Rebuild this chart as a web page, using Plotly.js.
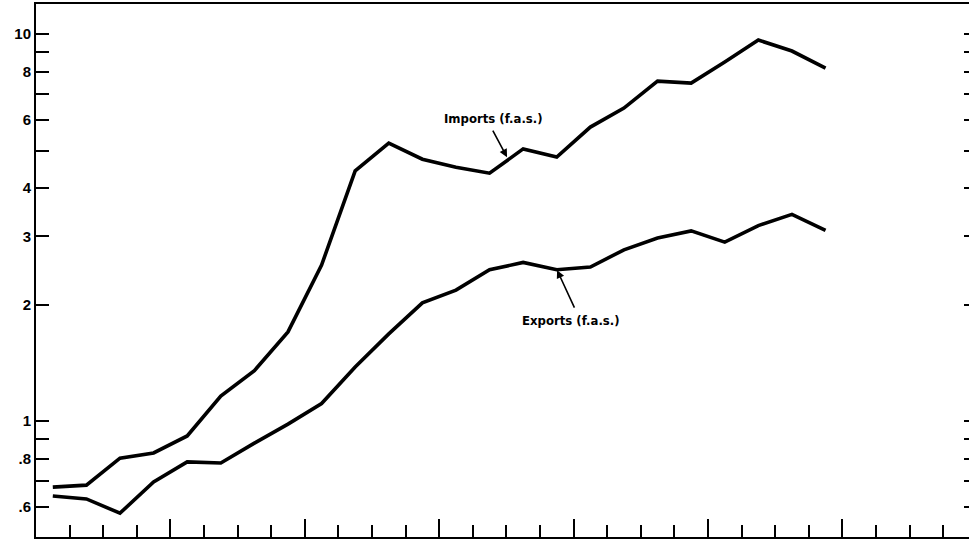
<!DOCTYPE html>
<html>
<head>
<meta charset="utf-8">
<script src="https://cdn.plot.ly/plotly-3.0.1.min.js"></script>
<style>html,body{margin:0;padding:0;background:#fff;}#chart{width:969px;height:539px;}</style>
</head>
<body>
<div id="chart"></div>
<script>
// Period positions (mid-interval, one per year tick)
const periods = [0.5, 1.5, 2.5, 3.5, 4.5, 5.5, 6.5, 7.5, 8.5, 9.5, 10.5, 11.5,
                 12.5, 13.5, 14.5, 15.5, 16.5, 17.5, 18.5, 19.5, 20.5, 21.5, 22.5, 23.5];
// Imports (f.a.s.)
const imports = [0.675, 0.683, 0.802, 0.827, 0.915, 1.16, 1.35, 1.70, 2.53, 4.43, 5.23, 4.75,
                 4.53, 4.37, 5.05, 4.81, 5.75, 6.44, 7.56, 7.47, 8.47, 9.65, 9.04, 8.17];
// Exports (f.a.s.)
const exports_ = [0.640, 0.629, 0.578, 0.696, 0.784, 0.779, 0.877, 0.982, 1.11, 1.38, 1.68, 2.02,
                  2.18, 2.46, 2.57, 2.46, 2.50, 2.77, 2.97, 3.10, 2.90, 3.20, 3.42, 3.11];
// Y-axis ticks
const yTickVals = [0.6, 0.7, 0.8, 0.9, 1, 2, 3, 4, 5, 6, 7, 8, 9, 10];
const yTickText = [".6", "", ".8", "", "1", "2", "3", "4", "", "6", "", "8", "", "10"];
// X-axis long ticks
const xMajorTicks = [4, 8, 12, 16, 20, 24];

const lineStyle = {color: '#000', width: 3.6};
const traces = [
  {x: periods, y: imports, type: 'scatter', mode: 'lines', line: lineStyle, name: 'Imports (f.a.s.)', hoverinfo: 'skip'},
  {x: periods, y: exports_, type: 'scatter', mode: 'lines', line: lineStyle, name: 'Exports (f.a.s.)', hoverinfo: 'skip'},
  {x: [], y: [], yaxis: 'y2', type: 'scatter', mode: 'lines', showlegend: false, hoverinfo: 'skip'}
];

const yRange = [Math.log10(0.5016), Math.log10(11.96)];
const tickFont = {family: 'Liberation Sans, Arial, sans-serif', size: 15, color: '#000', weight: 'bold'};
const labelFont = {family: 'Liberation Sans Narrow, DejaVu Sans Condensed, Liberation Sans, sans-serif', size: 13, color: '#000', weight: 'bold'};

const layout = {
  width: 969, height: 539,
  margin: {l: 36, r: 0, t: 4, b: 2, pad: 0},
  paper_bgcolor: '#fff', plot_bgcolor: '#fff',
  showlegend: false,
  xaxis: {
    range: [0, 27.77], showgrid: false, zeroline: false,
    showline: true, linecolor: '#000', linewidth: 2, mirror: true,
    tickmode: 'array', tickvals: xMajorTicks, ticks: 'inside', ticklen: 18, tickwidth: 2, tickcolor: '#000',
    showticklabels: false,
    minor: {dtick: 1, tick0: 0, ticks: 'inside', ticklen: 12, tickwidth: 2, tickcolor: '#000'}
  },
  yaxis: {
    type: 'log', range: yRange, showgrid: false, zeroline: false,
    showline: true, linecolor: '#000', linewidth: 2,
    tickmode: 'array', tickvals: yTickVals, ticktext: yTickText,
    ticks: 'inside', ticklen: 13, tickwidth: 2, tickcolor: '#000',
    tickfont: tickFont, ticklabelstandoff: 0
  },
  yaxis2: {
    type: 'log', range: yRange, overlaying: 'y', side: 'right', anchor: 'x',
    showgrid: false, zeroline: false, showline: false,
    tickmode: 'array', tickvals: yTickVals, ticks: 'inside', ticklen: 5, tickwidth: 2, tickcolor: '#000',
    showticklabels: false
  },
  annotations: [
    {xref: 'x', yref: 'y', x: 13.63, y: 0.783, text: 'Imports (f.a.s.)', showarrow: false, font: labelFont},
    {xref: 'x', yref: 'y', x: 14.02, y: 0.682, ax: -15, ay: -28, text: '', showarrow: true,
     arrowhead: 2, arrowsize: 1, arrowwidth: 1.6, arrowcolor: '#000'},
    {xref: 'x', yref: 'y', x: 15.92, y: 0.261, text: 'Exports (f.a.s.)', showarrow: false, font: labelFont},
    {xref: 'x', yref: 'y', x: 15.51, y: 0.390, ax: 18, ay: 39, text: '', showarrow: true,
     arrowhead: 2, arrowsize: 1, arrowwidth: 1.6, arrowcolor: '#000'}
  ]
};

Plotly.newPlot('chart', traces, layout, {staticPlot: true, displayModeBar: false});
</script>
</body>
</html>
